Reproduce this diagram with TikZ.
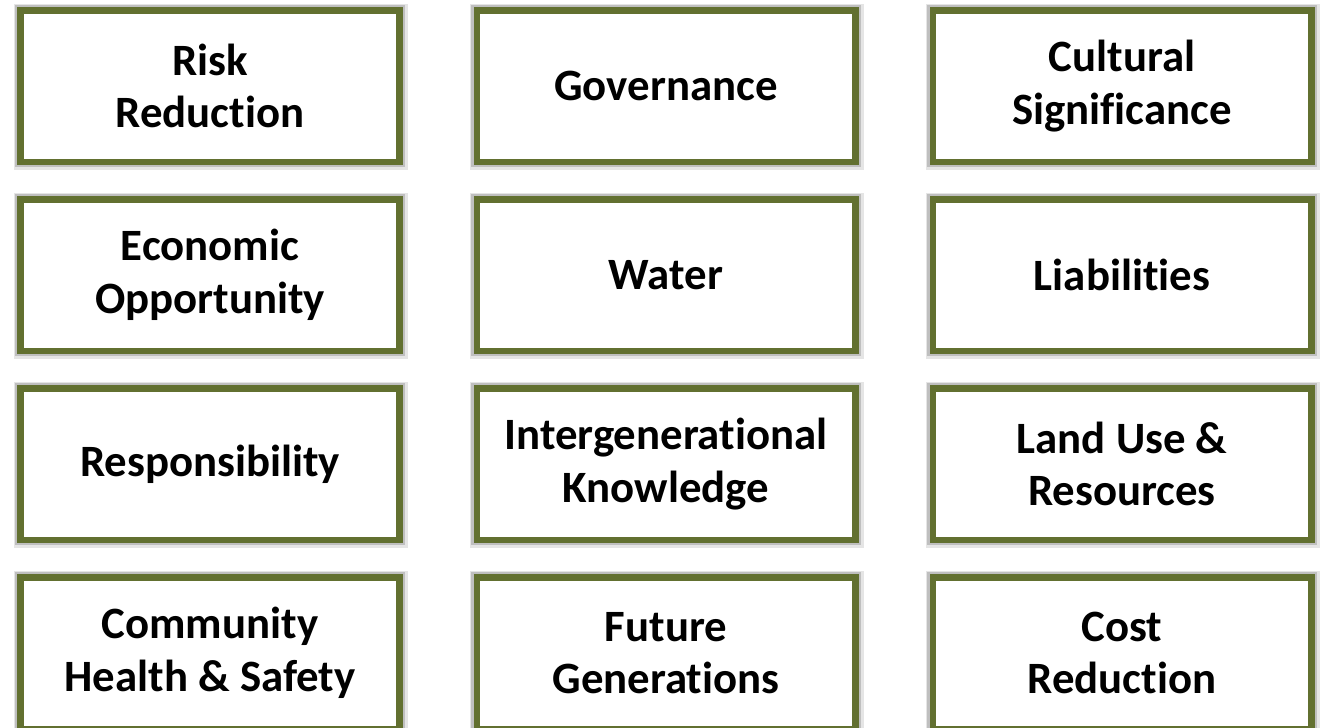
\documentclass[tikz,border=0pt]{standalone}
\usepackage{fontspec}
\setmainfont{Carlito}[Ligatures=NoCommon]
\usepackage{xcolor}
\usetikzlibrary{positioning}

\definecolor{olivebox}{RGB}{98,112,48}

\begin{document}
\begin{tikzpicture}[
    factor/.style={rectangle, draw=olivebox, line width=0.13cm, fill=white,
        minimum width=7.57cm, minimum height=3.03cm, text centered, align=center,
        font=\fontsize{25.5}{30}\selectfont\bfseries,
        preaction={draw=black!10, line width=0.30cm, transform canvas={xshift=0.02cm, yshift=-0.02cm}},
        preaction={draw=black!25, line width=0.22cm}},
    node distance=0.62cm and 1.42cm
]
\useasboundingbox (0,0) rectangle (26.42,-14.54);

\node (risk) [factor] at (4.2,-1.72) {Risk\\Reduction};
\node (gov) [factor, right=of risk] {Governance};
\node (culture) [factor, right=of gov] {Cultural\\Significance};

\node (econ) [factor, below=of risk] {Economic\\Opportunity};
\node (water) [factor, below=of gov] {Water};
\node (liab) [factor, below=of culture] {Liabilities};

\node (resp) [factor, below=of econ] {Responsibility};
\node (knowledge) [factor, below=of water] {Intergenerational\\Knowledge};
\node (land) [factor, below=of liab] {Land Use \&\\Resources};

\node (health) [factor, below=of resp] {Community\\Health \& Safety};
\node (future) [factor, below=of knowledge] {Future\\Generations};
\node (cost) [factor, below=of land] {Cost\\Reduction};

\end{tikzpicture}
\end{document}
